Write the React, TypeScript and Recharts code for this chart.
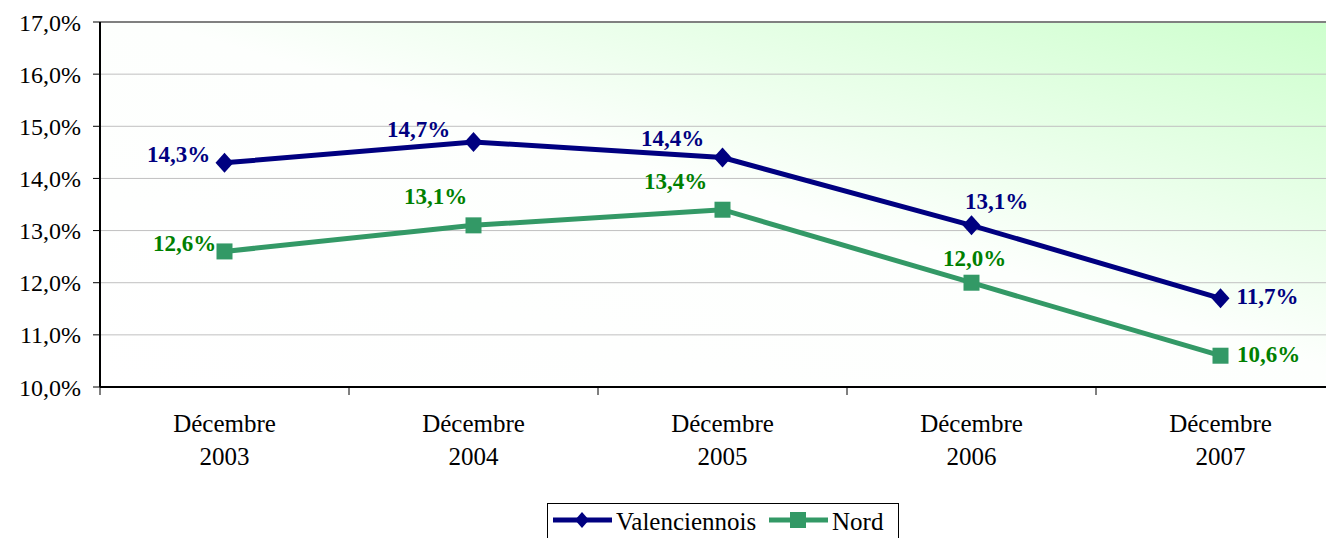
import React from 'react';
import { LineChart, Line, XAxis, YAxis, CartesianGrid, ReferenceLine, LabelList } from 'recharts';

const categories = ['Décembre 2003', 'Décembre 2004', 'Décembre 2005', 'Décembre 2006', 'Décembre 2007'];
const valenciennois = [14.3, 14.7, 14.4, 13.1, 11.7];
const nord = [12.6, 13.1, 13.4, 12.0, 10.6];
const yTicks = [10, 11, 12, 13, 14, 15, 16, 17];

const data = categories.map((name, i) => ({
  name,
  valenciennois: valenciennois[i],
  nord: nord[i],
}));

const FONT = "'Liberation Serif', 'DejaVu Serif', 'Noto Serif', 'Tinos', 'FreeSerif', 'Times New Roman', Times, Georgia, serif";
const NAVY = '#000080';
const NORD_LINE = '#339966';
const NORD_TEXT = '#008000';
const HALF_BAND = 124.5;

// label offsets from each point (text centre)
const vOffsets = [[-46, -9], [-55, -13], [-50, -20], [25, -24], [47, -2]];
const nOffsets = [[-40, -8], [-38, -29], [-47, -29], [3, -25], [48, -2]];

const fmt = (v: number) => v.toFixed(1).replace('.', ',') + '%';

const Diamond = (props: any) => {
  const { cx, cy } = props;
  if (cx == null || cy == null) return null;
  return <polygon points={`${cx},${cy - 10} ${cx + 9},${cy} ${cx},${cy + 10} ${cx - 9},${cy}`} fill={NAVY} />;
};

const Square = (props: any) => {
  const { cx, cy } = props;
  if (cx == null || cy == null) return null;
  return <rect x={cx - 8} y={cy - 8} width={16} height={16} fill={NORD_LINE} />;
};

const makeLabel = (offsets: number[][], color: string) => (props: any) => {
  const x = props.x ?? props.viewBox?.x;
  const y = props.y ?? props.viewBox?.y;
  const i = props.index ?? 0;
  const [dx, dy] = offsets[i] || [0, -20];
  return (
    <text
      x={x + dx}
      y={y + dy + 8}
      textAnchor="middle"
      fill={color}
      style={{ fontFamily: FONT }}
      fontSize={23}
      fontWeight="bold"
    >
      {fmt(props.value)}
    </text>
  );
};

const XTick = (props: any) => {
  const { x, y, payload } = props;
  const [month, year] = String(payload.value).split(' ');
  return (
    <g>
      <line x1={x - HALF_BAND} y1={y} x2={x - HALF_BAND} y2={y + 8} stroke="#000" strokeWidth={1} />
      <text textAnchor="middle" style={{ fontFamily: FONT }} fontSize={25} fill="#000">
        <tspan x={x} y={y + 45}>{month}</tspan>
        <tspan x={x} y={y + 78}>{year}</tspan>
      </text>
    </g>
  );
};

const ChartLegend = () => (
  <svg width={352} height={40} style={{ position: 'absolute', left: 547, top: 503 }}>
    <rect x={0.5} y={0.5} width={351} height={45} fill="#fff" stroke="#000" strokeWidth={1} />
    <line x1={6} y1={17} x2={65} y2={17} stroke={NAVY} strokeWidth={5} />
    <polygon points="35,9 42,17 35,25 28,17" fill={NAVY} />
    <text x={69} y={27} style={{ fontFamily: FONT }} fontSize={25} fill="#000">Valenciennois</text>
    <line x1={222} y1={17} x2={281} y2={17} stroke={NORD_LINE} strokeWidth={5} />
    <rect x={243} y={9} width={16} height={16} fill={NORD_LINE} />
    <text x={285} y={27} style={{ fontFamily: FONT }} fontSize={25} fill="#000">Nord</text>
  </svg>
);

export default function App() {
  return (
    <div style={{ position: 'absolute', left: 0, top: 0, width: 1326, height: 538, overflow: 'hidden', background: '#fff', fontFamily: FONT }}>
      <LineChart width={1360} height={538} data={data} margin={{ top: 22, right: 15, bottom: 51, left: 0 }}>
        <defs>
          <linearGradient id="plotBg" x1="0" y1="1" x2="1" y2="0">
            <stop offset="0" stopColor="#ffffff" />
            <stop offset="0.52" stopColor="#fdfffd" />
            <stop offset="1" stopColor="#ccffcc" />
          </linearGradient>
        </defs>
        <CartesianGrid vertical={false} stroke="#c0c0c0" fill="url(#plotBg)" fillOpacity={1} />
        <ReferenceLine y={17} stroke="#808080" strokeWidth={2} />
        <XAxis
          dataKey="name"
          height={100}
          padding={{ left: HALF_BAND, right: HALF_BAND }}
          axisLine={{ stroke: '#000', strokeWidth: 2 }}
          tickLine={false}
          tickSize={0}
          tickMargin={0}
          tick={<XTick />}
          interval={0}
        />
        <YAxis
          width={100}
          domain={[10, 17]}
          ticks={yTicks}
          tickFormatter={fmt}
          axisLine={{ stroke: '#000', strokeWidth: 2 }}
          tickLine={{ stroke: '#000' }}
          tickSize={7}
          tickMargin={12}
          tick={{ fontSize: 24, fill: '#000', style: { fontFamily: FONT } }}
        />
        <Line
          type="linear"
          dataKey="valenciennois"
          stroke={NAVY}
          strokeWidth={5}
          dot={<Diamond />}
          activeDot={false}
          isAnimationActive={false}
        >
          <LabelList dataKey="valenciennois" content={makeLabel(vOffsets, NAVY)} />
        </Line>
        <Line
          type="linear"
          dataKey="nord"
          stroke={NORD_LINE}
          strokeWidth={5}
          dot={<Square />}
          activeDot={false}
          isAnimationActive={false}
        >
          <LabelList dataKey="nord" content={makeLabel(nOffsets, NORD_TEXT)} />
        </Line>
      </LineChart>
      <ChartLegend />
    </div>
  );
}
